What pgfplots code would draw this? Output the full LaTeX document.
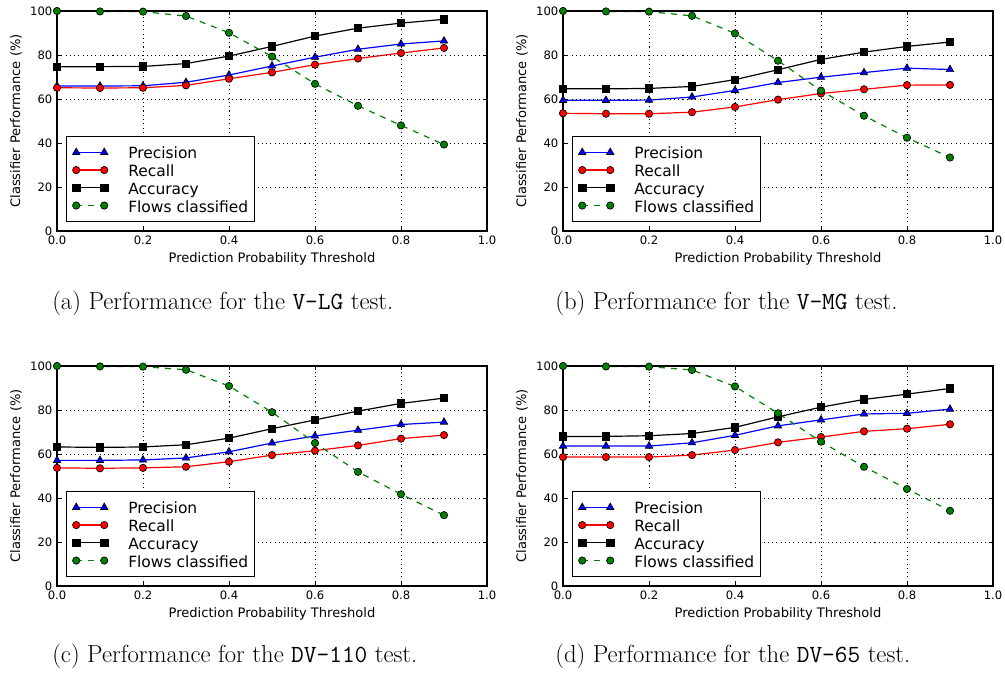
\documentclass[border=0pt]{standalone}
\usepackage{fontspec}
\usepackage{pgfplots}
\pgfplotsset{compat=1.18}
\newfontfamily\dejavu{DejaVu Sans}
\definecolor{mgreen}{rgb}{0,0.5,0}

\pgfplotsset{
  perf/.style={
    scale only axis, width=322.5pt, height=165pt,
    xmin=0,xmax=1,ymin=0,ymax=100,
    xtick={0,0.2,0.4,0.6,0.8,1.0},
    xticklabels={0.0,0.2,0.4,0.6,0.8,1.0},
    ytick={0,20,40,60,80,100},
    yticklabels={0,20,40,60,80,100},
    /pgf/number format/assume math mode=true,
    tick label style={font=\dejavu\fontsize{8.7}{10}\selectfont},
    label style={font=\dejavu\fontsize{9.8}{11}\selectfont},
    xlabel={Prediction Probability Threshold},
    ylabel={Classifier Performance (\%)},
    xlabel style={at={(axis description cs:0.5,-0.127)},anchor=center},
    ylabel style={at={(axis description cs:-0.0953,0.5)},anchor=center},
    grid=major,
    grid style={black, line width=0.45pt, dash pattern=on 0.8pt off 2.4pt},
    axis line style={line width=0.8pt},
    tick style={black, line width=0.6pt},
    tick align=inside, major tick length=3pt,
    axis on top=true,
    clip marker paths=false,
    legend style={at={(axis description cs:0.021,0.041)}, anchor=south west,
      draw=black, line width=0.75pt, fill=white,
      font=\dejavu\fontsize{11.6}{13}\selectfont,
      inner xsep=4.5pt, inner ysep=5.3pt, row sep=0pt, column sep=15.25pt,
      nodes={inner sep=0pt, text height=11.55pt, text depth=1.75pt, anchor=west}},
    legend cell align=left,
    legend image code/.code={\draw[mark repeat=2,mark phase=1,##1] plot coordinates {(0pt,0pt) (10.5pt,0pt) (21pt,0pt)};},
  },
  pprec/.style={blue, line width=0.9pt, mark=triangle*, mark size=3.2pt, mark options={fill=blue, draw=black, line width=0.5pt, solid}},
  prec/.style={red, line width=0.9pt, mark=*, mark size=2.75pt, mark options={fill=red, draw=black, line width=0.5pt, solid}},
  pacc/.style={black, line width=0.9pt, mark=square*, mark size=2.75pt, mark options={fill=black, draw=black, line width=0.5pt, solid}},
  pflow/.style={mgreen, line width=0.9pt, dash pattern=on 4.5pt off 4.5pt, mark=*, mark size=2.75pt, mark options={fill=mgreen, draw=black, line width=0.5pt, solid}},
}

\begin{document}
\begin{tikzpicture}
\useasboundingbox (0,0) rectangle (753.75pt,508.5pt);

% (a) V-LG
\begin{axis}[perf, at={(42.75pt,335.25pt)}, anchor=south west]
\addplot[pprec] coordinates {(0,65.9) (0.1,65.9) (0.2,66.0) (0.3,67.6) (0.4,70.9) (0.5,75.0) (0.6,79.0) (0.7,82.6) (0.8,85.0) (0.9,86.4)};
\addplot[prec] coordinates {(0,65.1) (0.1,65.0) (0.2,65.1) (0.3,66.2) (0.4,69.2) (0.5,72.1) (0.6,75.6) (0.7,78.4) (0.8,80.9) (0.9,83.2)};
\addplot[pacc] coordinates {(0,74.6) (0.1,74.7) (0.2,74.8) (0.3,76.1) (0.4,79.5) (0.5,83.9) (0.6,88.6) (0.7,92.2) (0.8,94.5) (0.9,96.2)};
\addplot[pflow] coordinates {(0,100) (0.1,99.8) (0.2,99.7) (0.3,97.7) (0.4,90.1) (0.5,79.3) (0.6,66.9) (0.7,56.9) (0.8,48.0) (0.9,39.3)};
\legend{Precision,Recall,Accuracy,Flows classified}
\end{axis}

% (b) V-MG
\begin{axis}[perf, at={(422.25pt,335.25pt)}, anchor=south west]
\addplot[pprec] coordinates {(0,59.4) (0.1,59.4) (0.2,59.5) (0.3,60.9) (0.4,63.9) (0.5,67.5) (0.6,69.9) (0.7,72.0) (0.8,74.0) (0.9,73.4)};
\addplot[prec] coordinates {(0,53.5) (0.1,53.3) (0.2,53.3) (0.3,54.0) (0.4,56.4) (0.5,59.7) (0.6,62.5) (0.7,64.4) (0.8,66.3) (0.9,66.4)};
\addplot[pacc] coordinates {(0,64.7) (0.1,64.6) (0.2,64.8) (0.3,65.7) (0.4,68.8) (0.5,73.3) (0.6,78.0) (0.7,81.3) (0.8,83.9) (0.9,85.9)};
\addplot[pflow] coordinates {(0,100) (0.1,99.8) (0.2,99.7) (0.3,97.8) (0.4,89.8) (0.5,77.4) (0.6,63.8) (0.7,52.4) (0.8,42.4) (0.9,33.4)};
\legend{Precision,Recall,Accuracy,Flows classified}
\end{axis}

% (c) DV-110
\begin{axis}[perf, at={(42.75pt,69pt)}, anchor=south west]
\addplot[pprec] coordinates {(0,57.1) (0.1,57.1) (0.2,57.3) (0.3,58.2) (0.4,61.0) (0.5,65.0) (0.6,68.2) (0.7,70.8) (0.8,73.4) (0.9,74.5)};
\addplot[prec] coordinates {(0,53.7) (0.1,53.5) (0.2,53.7) (0.3,54.2) (0.4,56.5) (0.5,59.5) (0.6,61.5) (0.7,63.9) (0.8,67.0) (0.9,68.6)};
\addplot[pacc] coordinates {(0,63.2) (0.1,63.0) (0.2,63.2) (0.3,64.2) (0.4,67.2) (0.5,71.5) (0.6,75.5) (0.7,79.5) (0.8,83.0) (0.9,85.4)};
\addplot[pflow] coordinates {(0,100) (0.1,99.8) (0.2,99.7) (0.3,98.3) (0.4,90.9) (0.5,79.0) (0.6,65.0) (0.7,51.9) (0.8,41.7) (0.9,32.2)};
\legend{Precision,Recall,Accuracy,Flows classified}
\end{axis}

% (d) DV-65
\begin{axis}[perf, at={(422.25pt,69pt)}, anchor=south west]
\addplot[pprec] coordinates {(0,63.6) (0.1,63.6) (0.2,63.6) (0.3,65.1) (0.4,68.5) (0.5,72.8) (0.6,75.5) (0.7,78.2) (0.8,78.5) (0.9,80.4)};
\addplot[prec] coordinates {(0,58.6) (0.1,58.6) (0.2,58.6) (0.3,59.5) (0.4,61.8) (0.5,65.3) (0.6,67.7) (0.7,70.3) (0.8,71.5) (0.9,73.5)};
\addplot[pacc] coordinates {(0,68.0) (0.1,68.0) (0.2,68.3) (0.3,69.3) (0.4,72.1) (0.5,76.9) (0.6,81.3) (0.7,84.8) (0.8,87.2) (0.9,89.8)};
\addplot[pflow] coordinates {(0,100) (0.1,99.8) (0.2,99.7) (0.3,98.2) (0.4,90.7) (0.5,78.5) (0.6,65.6) (0.7,54.2) (0.8,44.1) (0.9,34.2)};
\legend{Precision,Recall,Accuracy,Flows classified}
\end{axis}

\node[anchor=base west, inner sep=0pt, font=\fontsize{18.5}{21}\selectfont] at (39pt,276pt) {(a) Performance for the \texttt{V-LG} test.};
\node[anchor=base west, inner sep=0pt, font=\fontsize{18.5}{21}\selectfont] at (416.25pt,276pt) {(b) Performance for the \texttt{V-MG} test.};
\node[anchor=base west, inner sep=0pt, font=\fontsize{18.5}{21}\selectfont] at (39pt,12pt) {(c) Performance for the \texttt{DV-110} test.};
\node[anchor=base west, inner sep=0pt, font=\fontsize{18.5}{21}\selectfont] at (416.25pt,12pt) {(d) Performance for the \texttt{DV-65} test.};
\end{tikzpicture}
\end{document}
